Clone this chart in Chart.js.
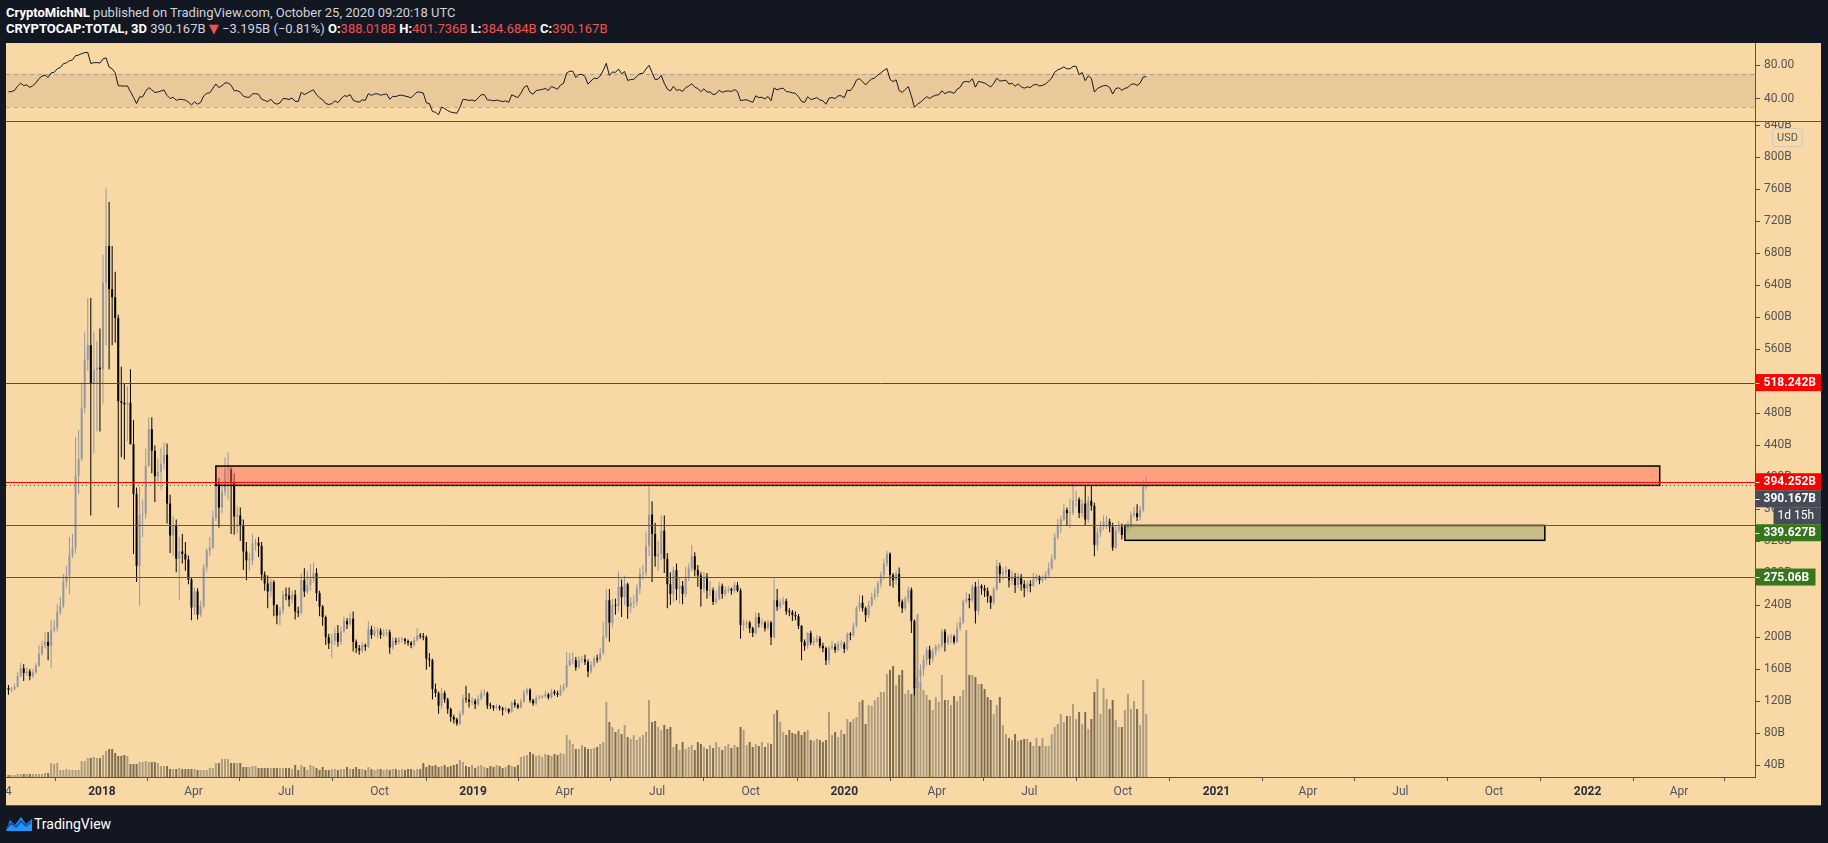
<!DOCTYPE html>
<html>
<head>
<meta charset="utf-8">
<title>CRYPTOCAP:TOTAL, 3D</title>
<script src="https://cdn.jsdelivr.net/npm/chart.js"></script>
<style>
    html, body { margin: 0; padding: 0; }
    body { width: 1828px; height: 843px; background: #131722; position: relative; overflow: hidden; font-family: Roboto, "DejaVu Sans", sans-serif; }
    .hdr { position: absolute; left: 6px; font-size: 13px; line-height: 16px; color: #d1d4dc; white-space: nowrap; }
    .hdr b { color: #ffffff; font-weight: bold; }
    .hdr .r { color: #ef5350; }
    #hdr1 { top: 5px; }
    #hdr2 { top: 21px; }
    #frame { position: absolute; left: 6px; top: 43px; width: 1815px; height: 763px; background: #f8d8a5; }
    #rsiCanvas { position: absolute; left: 0; top: 0; }
    #mainCanvas { position: absolute; left: 0; top: 78px; }
    #sep { position: absolute; left: 0; top: 78px; width: 1815px; height: 1px; background: #50535e; }
    #bottomLine { position: absolute; left: 0; top: 762px; width: 1815px; height: 1px; background: #50535e; }
    #usd { position: absolute; left: 1766px; top: 85px; width: 29px; height: 17px; border: 1px solid #d0c9bd; border-radius: 3px; font-size: 11px; line-height: 17px; text-align: center; color: #50535e; }
    #footer { position: absolute; left: 6px; top: 815px; height: 18px; color: #ffffff; font-size: 14px; line-height: 18px; white-space: nowrap; }
    #footer svg { vertical-align: top; margin-right: 2px; }
</style>
</head>
<body>
<div class="hdr" id="hdr1"><b>CryptoMichNL</b> published on TradingView.com, October 25, 2020 09:20:18 UTC</div>
<div class="hdr" id="hdr2"><b>CRYPTOCAP:TOTAL, 3D</b> 390.167B <span class="r">&#9660;</span> &minus;3.195B (&minus;0.81%) <b>O:</b><span class="r">388.018B</span> <b>H:</b><span class="r">401.736B</span> <b>L:</b><span class="r">384.684B</span> <b>C:</b><span class="r">390.167B</span></div>

<div id="frame">
    <canvas id="rsiCanvas" width="1815" height="78"></canvas>
    <canvas id="mainCanvas" width="1815" height="685"></canvas>
    <div id="sep"></div>
    <div id="bottomLine"></div>
    <div id="usd">USD</div>
</div>

<div id="footer"><svg width="26" height="16" viewBox="0 0 26 16"><path d="M0 16 L4 5 L9 10 L15 2 L20 9 L26 4 L26 16 Z" fill="#2196f3"/><path d="M1 13 L5 8 L10 12 L15 6 L20 11 L25 7" stroke="#0d47a1" stroke-width="1.6" fill="none"/></svg>TradingView</div>

<script>
    "use strict";

    // 3D candles, days counted from 2018-01-01, first candle 2017-10-01
    var firstDay = -92;
    var barDays = 3;

    // closes before the visible range, only used to warm up the RSI
    var warmup = [140, 150, 140, 145, 150, 160, 170, 160, 165, 150, 145, 115, 135, 125, 128, 136];

    var closes = [
        134, 135, 138, 151, 161, 155, 157, 151, 156, 164,
        179, 189, 194, 189, 209, 212, 231, 239, 269, 277,
        302, 312, 402, 423, 487, 547, 565, 517, 534, 537,
        535, 643, 689, 635, 625, 599, 495, 493, 491, 493,
        441, 379, 289, 353, 354, 414, 460, 433, 401, 407,
        417, 428, 367, 327, 339, 298, 307, 304, 297, 272,
        237, 257, 228, 239, 287, 308, 312, 349, 392, 362,
        382, 410, 410, 393, 351, 352, 339, 307, 296, 296,
        317, 318, 314, 278, 267, 257, 269, 240, 227, 233,
        253, 252, 247, 253, 232, 230.5, 271, 257, 265, 273,
        280, 255, 238, 225, 200, 192, 195, 205, 194, 207,
        220, 216, 223, 194, 186, 183, 190, 188, 210, 202.5,
        207.5, 208, 202.5, 205, 206, 187, 195, 194, 197, 197.5,
        195, 193, 190, 196, 202, 201, 199.6, 173, 171, 135,
        130, 114, 130, 122, 110, 100, 97, 92, 104, 123,
        122, 119, 120, 116, 123, 130, 130, 114.5, 114, 111.6,
        113, 111, 109, 110, 106.6, 118, 115, 112, 119, 130,
        134, 121, 117, 124, 125, 126, 128, 124.5, 131.6, 129.6,
        127.5, 134.6, 138, 165, 171, 171, 162, 171, 172, 169,
        157, 165, 173, 172, 180, 201, 246, 218, 240, 239,
        263, 250, 266, 238, 243, 244, 261, 279, 280.5, 314,
        353, 329, 301, 304, 333, 298, 266, 254, 284, 260,
        264, 254, 275.5, 286, 301, 284, 277, 260, 275.5, 258,
        258.5, 244, 248, 264, 254, 259, 260, 258, 265, 258,
        215, 217, 218, 211, 205, 225, 217, 218, 211, 218,
        200, 246, 238, 243, 245, 232, 231, 227.5, 226, 214,
        194, 189, 205, 193, 195, 198, 189, 186, 171, 186,
        188, 184, 191, 191, 185, 204, 202.5, 214, 237, 243,
        236, 227.5, 240, 250, 254.6, 267, 277.6, 292, 304, 277.6,
        271, 279, 244, 236, 248, 259, 220, 136, 150, 159,
        171, 184, 173, 182, 188, 189, 207, 193, 200, 200.5,
        194, 211, 219, 245, 248, 246, 263, 233, 264, 261,
        258, 251, 243, 260, 289, 279, 281, 284, 271, 275.5,
        265, 275.5, 266, 261, 266, 264, 273, 275.5, 271, 273,
        277.6, 286, 298, 325, 339, 347, 359, 355, 355, 371,
        372, 355, 367, 347, 370.5, 364, 315, 330.5, 338, 344,
        344.5, 338, 312, 334, 338, 327.6, 336, 339, 352.6, 355,
        350, 359, 388, 390.167
    ];

    var highs = [
        140, 138, 142, 156, 168, 166, 162, 160, 160, 168,
        190, 195, 206, 206, 221, 221, 241, 250, 279, 289,
        325, 329, 450, 459, 518, 581, 624, 624, 582, 570,
        586, 678, 761, 744, 689, 657, 603, 538, 517, 514,
        535, 471, 387, 388, 372, 436, 475, 475, 440, 424,
        437, 443, 442, 378, 351, 347, 325, 329, 319, 302,
        274, 262, 261, 245, 291, 311, 325, 358, 403, 399,
        390, 425, 431, 412, 405, 364, 362, 347, 319, 305,
        329, 323, 325, 319, 282, 277, 273, 271, 241, 238,
        258, 262, 262, 258, 259, 238, 280, 286, 283, 291,
        293, 286, 258, 240, 227, 204, 204, 212, 215, 213,
        226, 224, 230, 232, 197, 190, 194, 192, 220, 214,
        213, 212, 211, 210, 210, 209, 200, 199, 200, 200,
        199, 197, 195, 200, 211, 205, 205, 202, 180, 173,
        142, 132, 137, 133, 124, 112, 103, 99, 108, 128,
        139, 130, 125, 123, 128, 134, 135, 132, 118, 115,
        116, 115, 113, 113, 111, 120, 122, 117, 123, 134,
        137, 136, 123, 127, 128, 128, 133, 130, 135, 134,
        133, 140, 142, 181, 180, 181, 175, 176, 177, 178,
        172, 170, 176, 178, 186, 219, 260, 260, 248, 248,
        282, 272, 277, 268, 250, 253, 266, 287, 290, 332,
        389, 370, 343, 320, 352, 352, 305, 281, 288, 292,
        275, 270, 288, 292, 315, 306, 290, 281, 281, 280,
        270, 262, 258, 269, 267, 264, 264, 262, 269, 269,
        261, 222, 221, 220, 213, 231, 230, 223, 220, 222,
        220, 275, 260, 248, 250, 248, 236, 234, 232, 229,
        215, 197, 206, 208, 200, 203, 201, 193, 188, 189,
        195, 192, 195, 196, 194, 206, 206, 218, 239, 253,
        252, 238, 245, 255, 262, 270, 282, 298, 308, 306,
        280, 283, 287, 247, 251, 263, 262, 222, 162, 166,
        178, 188, 189, 186, 191, 192, 210, 210, 203, 204,
        203, 218, 225, 247, 256, 254, 266, 269, 272, 266,
        265, 262, 252, 263, 297, 293, 287, 289, 285, 283,
        280, 280, 279, 271, 270, 271, 280, 279, 277, 277,
        282, 293, 303, 330, 348, 352, 366, 362, 373, 394,
        383, 375, 372, 390, 376, 390, 368, 337, 345, 352,
        352, 348, 343, 340, 345, 342, 342, 345, 357, 363,
        366, 364, 397, 401.736
    ];

    var lows = [
        128, 131, 133, 137, 150, 145, 152, 146, 149, 154,
        163, 177, 186, 171, 161, 206, 207, 228, 236, 262,
        254, 299, 305, 379, 420, 480, 533, 352, 430, 457,
        457, 492, 565, 535, 565, 568, 362, 425, 422, 445,
        452, 304, 269, 239, 325, 348, 413, 405, 369, 393,
        384, 410, 342, 305, 302, 281, 246, 292, 283, 266,
        221, 228, 222, 225, 236, 282, 301, 310, 345, 337,
        355, 376, 372, 329, 328, 330, 320, 284, 271, 283,
        290, 308, 300, 271, 258, 236, 250, 226, 216, 214,
        229, 246, 238, 242, 222, 225, 228, 250, 254, 258,
        268, 245, 226, 214, 190, 185, 174, 190, 188, 190,
        205, 210, 214, 182, 180, 178, 180, 183, 186, 198,
        200, 199, 198, 200, 201, 179, 184, 190, 191, 193,
        191, 189, 186, 188, 194, 198, 196, 159, 163, 122,
        125, 104, 110, 118, 104, 94, 92, 89, 90, 102,
        118, 112, 115, 110, 114, 121, 126, 110, 110, 108,
        109, 108, 102, 106, 104, 105, 112, 110, 111, 118,
        127, 118, 114, 115, 122, 123, 124, 122, 123, 127,
        125, 126, 132, 136, 163, 166, 158, 160, 168, 165,
        150, 154, 162, 168, 170, 178, 198, 194, 212, 228,
        232, 225, 240, 223, 230, 236, 239, 254, 272, 276,
        301, 269, 288, 283, 296, 280, 236, 240, 244, 246,
        242, 241, 250, 270, 282, 276, 263, 238, 255, 248,
        251, 240, 241, 246, 248, 251, 255, 253, 255, 256,
        198, 208, 211, 205, 200, 203, 212, 213, 207, 209,
        190, 198, 233, 235, 240, 228, 226, 220, 221, 210,
        171, 183, 185, 190, 189, 193, 186, 181, 165, 165,
        184, 180, 182, 186, 180, 183, 196, 200, 212, 232,
        232, 219, 224, 238, 246, 250, 262, 272, 288, 264,
        262, 265, 238, 230, 233, 243, 205, 127, 108, 134,
        151, 164, 165, 168, 177, 183, 186, 182, 190, 192,
        191, 193, 208, 216, 242, 236, 243, 217, 228, 253,
        250, 243, 235, 240, 258, 268, 272, 275, 262, 265,
        255, 261, 258, 250, 256, 256, 263, 269, 266, 268,
        271, 274, 284, 296, 322, 330, 345, 339, 336, 352,
        363, 349, 350, 340, 343, 358, 301, 308, 325, 334,
        335, 331, 308, 310, 330, 322, 324, 333, 336, 350,
        345, 346, 356, 384.684
    ];

    var volumes = [
        2, 2, 2, 3, 3, 3, 3, 3, 3, 3,
        3, 3, 4, 4, 14, 13, 14, 7, 7, 8,
        7, 7, 7, 7, 16, 16, 19, 19, 20, 19,
        19, 22, 26, 28, 28, 24, 21, 21, 22, 21,
        13, 13, 13, 15, 15, 16, 15, 15, 15, 14,
        11, 11, 11, 8, 8, 8, 9, 8, 8, 8,
        8, 8, 7, 7, 7, 7, 9, 9, 14, 14,
        18, 18, 18, 14, 14, 14, 14, 10, 10, 10,
        11, 11, 9, 9, 9, 9, 9, 9, 9, 9,
        9, 9, 9, 8, 12, 7, 12, 10, 7, 12,
        11, 9, 7, 10, 7, 7, 8, 8, 7, 8,
        8, 10, 8, 8, 10, 8, 8, 7, 10, 8,
        7, 8, 8, 7, 8, 7, 8, 8, 7, 8,
        7, 8, 8, 7, 8, 8, 14, 10, 12, 11,
        12, 10, 11, 12, 10, 11, 12, 13, 17, 15,
        11, 10, 12, 9, 11, 12, 10, 9, 11, 10,
        12, 11, 9, 10, 12, 11, 10, 12, 20, 21,
        22, 25, 23, 21, 22, 20, 23, 22, 21, 23,
        22, 24, 23, 42, 37, 33, 28, 28, 32, 30,
        28, 28, 29, 30, 33, 35, 75, 55, 50, 45,
        48, 43, 52, 40, 38, 42, 37, 40, 42, 45,
        77, 55, 56, 50, 47, 52, 48, 50, 30, 33,
        27, 35, 28, 30, 32, 27, 35, 33, 30, 28,
        32, 29, 35, 30, 27, 31, 33, 29, 32, 30,
        50, 47, 32, 35, 30, 33, 31, 35, 30, 34,
        33, 63, 67, 55, 45, 42, 47, 44, 43, 46,
        42, 45, 47, 37, 36, 38, 37, 35, 37, 65,
        42, 45, 40, 47, 43, 58, 55, 58, 60, 75,
        77, 53, 72, 71, 77, 80, 85, 85, 103, 107,
        111, 92, 102, 107, 83, 87, 83, 89, 163, 95,
        87, 82, 77, 67, 80, 75, 102, 77, 77, 72,
        81, 76, 81, 87, 147, 102, 102, 100, 93, 93,
        88, 80, 77, 63, 72, 80, 52, 43, 39, 37,
        43, 36, 37, 38, 38, 35, 31, 39, 31, 39,
        31, 31, 43, 50, 53, 63, 55, 61, 61, 73,
        58, 65, 53, 65, 48, 58, 85, 98, 63, 89,
        78, 68, 77, 57, 50, 50, 67, 83, 68, 76,
        68, 52, 97, 63
    ];

    // time axis
    var tickDays = [-92, 0, 90, 181, 273, 365, 455, 546, 638, 730, 821, 912, 1004, 1096, 1186, 1277, 1369, 1461, 1551];
    var tickLabels = ['4', '2018', 'Apr', 'Jul', 'Oct', '2019', 'Apr', 'Jul', 'Oct', '2020', 'Apr', 'Jul', 'Oct', '2021', 'Apr', 'Jul', 'Oct', '2022', 'Apr'];
    var priceTicks = [40, 80, 120, 160, 200, 240, 280, 320, 360, 400, 440, 480, 520, 560, 600, 640, 680, 720, 760, 800, 840];
    var rsiTicks = [40, 80];

    // drawn levels and price labels
    var levelValues = [518.242, 394.252, 339.627, 275.06];
    var levelColors = ['#ff0000', '#ff0000', '#38761d', '#38761d'];
    var lastPrice = 390.167;
    var labelValues = [518.242, 394.252, 390.167, 339.627, 275.06];
    var labelTexts = ['518.242B', '394.252B', '390.167B', '339.627B', '275.06B'];
    var labelColors = ['#ff0000', '#ff0000', '#474b57', '#38761d', '#38761d'];
    var countdown = '1d 15h';

    // rectangles (start day, end day, top, bottom)
    var zoneStart = [112, 1006];
    var zoneEnd = [1532, 1419];
    var zoneTop = [413.9, 339.6];
    var zoneBottom = [389.7, 321.0];
    var zoneFill = ['rgba(255,104,85,0.5)', 'rgba(150,162,100,0.5)'];

    var upColor = '#9598a1';
    var downColor = '#000000';
    var volUpColor = '#ab9c82';
    var volDownColor = '#7e6c51';
    var axisColor = '#50535e';
    var textColor = '#50535e';

    var xMin = -94.4, xMax = 1625.7;

    var opens = closes.map(function (c, i) { return i === 0 ? warmup[warmup.length - 1] : closes[i - 1]; });
    var days = closes.map(function (c, i) { return firstDay + i * barDays; });
    var isUp = closes.map(function (c, i) { return c >= opens[i]; });

    // Wilder RSI 14
    function calcRsi(src, n) {
        var out = [null], gain = 0, loss = 0;
        for (var i = 1; i < src.length; i++) {
            var d = src[i] - src[i - 1];
            var g = d > 0 ? d : 0, l = d < 0 ? -d : 0;
            if (i <= n) {
                gain += g / n; loss += l / n;
                if (i < n) { out.push(null); continue; }
            } else {
                gain = (gain * (n - 1) + g) / n;
                loss = (loss * (n - 1) + l) / n;
            }
            out.push(loss === 0 ? 100 : 100 - 100 / (1 + gain / loss));
        }
        return out;
    }
    var rsiAll = calcRsi(warmup.concat(closes), 14);
    var rsi = rsiAll.slice(warmup.length);

    var fontFamily = 'Roboto, "DejaVu Sans", sans-serif';

    // RSI pane
    var rsiBand = {
        id: 'rsiBand',
        beforeDatasetsDraw: function (chart) {
            var ctx = chart.ctx, a = chart.chartArea, y = chart.scales.y;
            var y70 = y.getPixelForValue(70), y30 = y.getPixelForValue(30);
            ctx.save();
            ctx.fillStyle = 'rgba(130,90,70,0.12)';
            ctx.fillRect(a.left, y70, a.right - a.left, y30 - y70);
            ctx.strokeStyle = 'rgba(120,123,134,0.55)';
            ctx.lineWidth = 1;
            ctx.setLineDash([4, 4]);
            [y70, y30].forEach(function (py) {
                ctx.beginPath();
                ctx.moveTo(a.left, Math.round(py) + 0.5);
                ctx.lineTo(a.right, Math.round(py) + 0.5);
                ctx.stroke();
            });
            ctx.restore();
        }
    };

    new Chart(document.getElementById('rsiCanvas'), {
        type: 'line',
        data: {
            datasets: [{
                data: rsi.map(function (r, i) { return {x: days[i], y: r}; }),
                borderColor: '#131722',
                borderWidth: 1,
                pointRadius: 0,
                tension: 0
            }]
        },
        options: {
            responsive: false,
            animation: false,
            events: [],
            layout: {padding: 0},
            plugins: {legend: {display: false}, tooltip: {enabled: false}},
            scales: {
                x: {type: 'linear', display: false, min: xMin, max: xMax, offset: false},
                y: {
                    type: 'linear', position: 'right', min: 13.3, max: 106.7,
                    afterBuildTicks: function (s) { s.ticks = rsiTicks.map(function (v) { return {value: v}; }); },
                    afterFit: function (s) { s.width = 66; s.paddingTop = 0; s.paddingBottom = 0; },
                    ticks: {
                        color: textColor, padding: 4,
                        font: {family: fontFamily, size: 12},
                        callback: function (v) { return v.toFixed(2); }
                    },
                    grid: {drawOnChartArea: false, tickLength: 5, color: axisColor},
                    border: {color: axisColor}
                }
            }
        },
        plugins: [rsiBand]
    });

    // Main pane drawings: zones, levels and right-hand price labels
    var drawings = {
        id: 'drawings',
        afterDatasetsDraw: function (chart) {
            var ctx = chart.ctx, a = chart.chartArea, x = chart.scales.x, y = chart.scales.y;
            ctx.save();
            ctx.beginPath();
            ctx.rect(a.left, a.top, a.right - a.left, a.bottom - a.top);
            ctx.clip();
            zoneStart.forEach(function (d, i) {
                var x0 = x.getPixelForValue(d), x1 = x.getPixelForValue(zoneEnd[i]);
                var y0 = y.getPixelForValue(zoneTop[i]), y1 = y.getPixelForValue(zoneBottom[i]);
                ctx.fillStyle = zoneFill[i];
                ctx.fillRect(x0, y0, x1 - x0, y1 - y0);
                ctx.strokeStyle = '#000000';
                ctx.lineWidth = 1.5;
                ctx.strokeRect(x0, y0, x1 - x0, y1 - y0);
            });
            ctx.lineWidth = 1;
            levelValues.forEach(function (v, i) {
                var py = Math.round(y.getPixelForValue(v)) + 0.5;
                ctx.strokeStyle = levelColors[i];
                ctx.beginPath();
                ctx.moveTo(a.left, py);
                ctx.lineTo(a.right, py);
                ctx.stroke();
            });
            var lp = Math.round(y.getPixelForValue(lastPrice)) + 0.5;
            ctx.strokeStyle = '#474b57';
            ctx.setLineDash([1, 3]);
            ctx.beginPath();
            ctx.moveTo(a.left, lp);
            ctx.lineTo(a.right, lp);
            ctx.stroke();
            ctx.restore();
        },
        afterDraw: function (chart) {
            var ctx = chart.ctx, a = chart.chartArea, y = chart.scales.y;
            var boxH = 17, prevBottom = -1000, left = a.right + 0.5, right = chart.width;
            ctx.save();
            ctx.font = 'bold 12px ' + fontFamily;
            ctx.textBaseline = 'middle';
            labelValues.forEach(function (v, i) {
                var top = Math.max(y.getPixelForValue(v) - boxH / 2, prevBottom);
                var w = (i === labelValues.length - 1) ? 60 : right - left;
                ctx.fillStyle = labelColors[i];
                ctx.fillRect(left, top, w, boxH);
                ctx.fillStyle = '#ffffff';
                ctx.fillRect(left, Math.round(top + boxH / 2), 4, 1);
                ctx.fillText(labelTexts[i], left + 8, top + boxH / 2 + 0.5);
                prevBottom = top + boxH;
                if (v === lastPrice) {
                    ctx.fillStyle = labelColors[i];
                    ctx.fillRect(left + 18, prevBottom, right - left - 18, boxH);
                    ctx.fillStyle = '#ffffff';
                    ctx.font = '12px ' + fontFamily;
                    ctx.fillText(countdown, left + 22, prevBottom + boxH / 2 + 0.5);
                    ctx.font = 'bold 12px ' + fontFamily;
                    prevBottom += boxH;
                }
            });
            ctx.restore();
        }
    };

    new Chart(document.getElementById('mainCanvas'), {
        type: 'bar',
        data: {
            datasets: [{
                // volume
                data: volumes.map(function (v, i) { return {x: days[i], y: v}; }),
                yAxisID: 'yv',
                backgroundColor: isUp.map(function (u) { return u ? volUpColor : volDownColor; }),
                barThickness: 2,
                grouped: false,
                inflateAmount: 0,
                order: 3
            }, {
                // wicks
                data: highs.map(function (h, i) { return {x: days[i], y: [lows[i], h]}; }),
                yAxisID: 'y',
                backgroundColor: isUp.map(function (u) { return u ? upColor : downColor; }),
                barThickness: 1,
                grouped: false,
                inflateAmount: 0,
                order: 2
            }, {
                // bodies
                data: closes.map(function (c, i) { return {x: days[i], y: [opens[i], c]}; }),
                yAxisID: 'y',
                backgroundColor: isUp.map(function (u) { return u ? upColor : downColor; }),
                barThickness: 2,
                minBarLength: 1,
                grouped: false,
                inflateAmount: 0,
                order: 1
            }]
        },
        options: {
            responsive: false,
            animation: false,
            events: [],
            layout: {padding: 0},
            plugins: {legend: {display: false}, tooltip: {enabled: false}},
            scales: {
                x: {
                    type: 'linear', position: 'bottom', min: xMin, max: xMax, offset: false,
                    afterBuildTicks: function (s) { s.ticks = tickDays.map(function (d) { return {value: d}; }); },
                    afterFit: function (s) { s.height = 29; s.paddingLeft = 0; s.paddingRight = 0; },
                    ticks: {
                        autoSkip: false, maxRotation: 0, padding: 4,
                        callback: function (v, i) { return tickLabels[i]; },
                        color: function (c) { return /^\d{4}$/.test(tickLabels[c.index]) ? '#2a2e39' : textColor; },
                        font: function (c) {
                            return {family: fontFamily, size: 12, weight: /^\d{4}$/.test(tickLabels[c.index]) ? 'bold' : 'normal'};
                        }
                    },
                    grid: {drawOnChartArea: false, tickLength: 4, color: axisColor},
                    border: {color: axisColor}
                },
                y: {
                    type: 'linear', position: 'right', min: 25, max: 845.4,
                    afterBuildTicks: function (s) { s.ticks = priceTicks.map(function (v) { return {value: v}; }); },
                    afterFit: function (s) { s.width = 66; s.paddingTop = 0; s.paddingBottom = 0; },
                    ticks: {
                        color: textColor, padding: 4,
                        font: {family: fontFamily, size: 12},
                        callback: function (v) { return v + 'B'; }
                    },
                    grid: {drawOnChartArea: false, tickLength: 5, color: axisColor},
                    border: {color: axisColor}
                },
                yv: {type: 'linear', display: false, min: 0, max: 656}
            }
        },
        plugins: [drawings]
    });
</script>
</body>
</html>
